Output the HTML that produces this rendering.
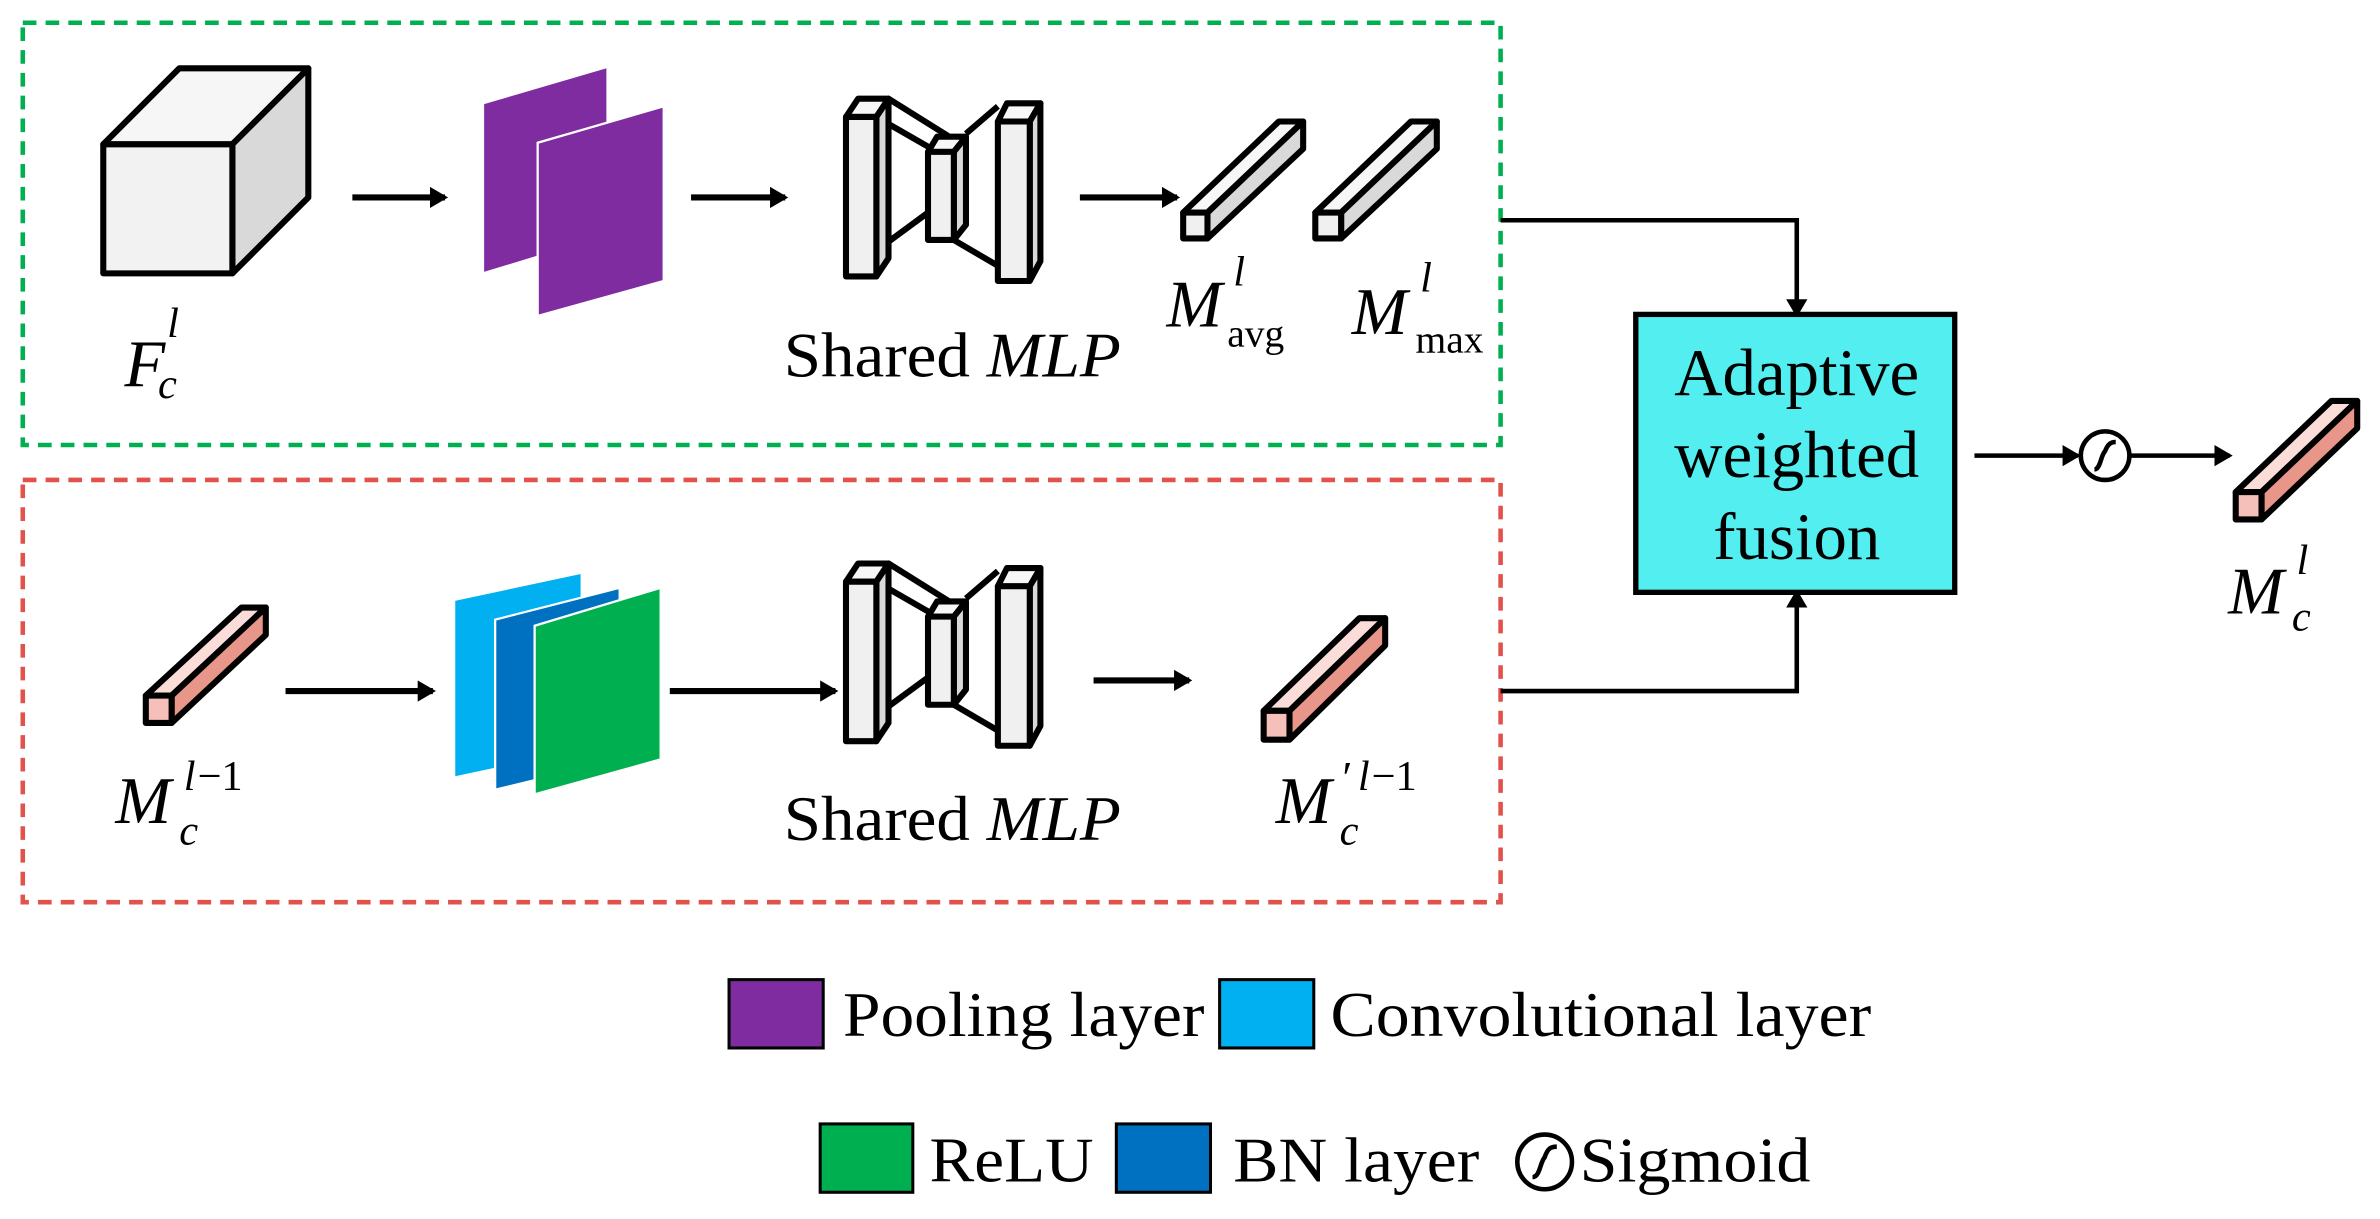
<!DOCTYPE html>
<html><head><meta charset="utf-8"><style>
html,body{margin:0;padding:0;background:#fff;}
svg{display:block;}
text{font-family:"Liberation Serif",serif;fill:#000;}
</style></head><body>
<svg width="2380" height="1219" viewBox="0 0 1567 802.6" preserveAspectRatio="none" xmlns="http://www.w3.org/2000/svg">
<defs>
<marker id="ah" markerWidth="12" markerHeight="14" refX="10" refY="7" orient="auto" markerUnits="userSpaceOnUse" viewBox="0 0 12 14"><path d="M0,0 L12,7 L0,14 Z" fill="#000"/></marker>
<g id="mlp" stroke="#000" stroke-width="4" stroke-linejoin="round">
  <line x1="577" y1="77" x2="617" y2="100"/><line x1="585" y1="65" x2="625" y2="90"/>
  <line x1="577" y1="165" x2="611" y2="140"/>
  <line x1="636" y1="88" x2="657" y2="70"/>
  <line x1="628" y1="158" x2="657" y2="175"/>
  <polygon points="557,77 565,65 585,65 577,77" fill="#f7f7f7"/>
  <polygon points="577,77 585,65 585,170 577,182" fill="#d9d9d9"/>
  <rect x="557" y="77" width="20" height="105" fill="#f0f0f0"/>
  <polygon points="611,100 617,90 636,90 628,100" fill="#f7f7f7"/>
  <polygon points="628,100 636,90 636,148 628,158" fill="#d9d9d9"/>
  <rect x="611" y="100" width="17" height="58" fill="#f0f0f0"/>
  <polygon points="657,80 663,68 685,68 678,80" fill="#f7f7f7"/>
  <polygon points="678,80 685,68 685,172 678,185" fill="#d9d9d9"/>
  <rect x="657" y="80" width="21" height="105" fill="#f0f0f0"/>
</g>
</defs>

<rect x="15" y="15" width="973" height="278" fill="none" stroke="#00b050" stroke-width="3" stroke-dasharray="9,6"/>
<rect x="15" y="316" width="973" height="278" fill="none" stroke="#e0524a" stroke-width="3" stroke-dasharray="9,6"/>

<g stroke="#000" stroke-width="4" stroke-linejoin="round">
<polygon points="68,95 118,45 203,45 153,95" fill="#f6f6f6"/>
<polygon points="153,95 203,45 203,130 153,180" fill="#d9d9d9"/>
<rect x="68" y="95" width="85" height="85" fill="#f2f2f2"/>
</g>
<text x="82" y="254" font-size="44" font-style="italic">F</text>
<text x="110" y="222" font-size="28" font-style="italic">l</text>
<text x="104" y="262" font-size="28" font-style="italic">c</text>

<g stroke="#000" stroke-width="4" fill="none">
<line x1="232" y1="130" x2="293" y2="130" marker-end="url(#ah)"/>
<line x1="455" y1="130" x2="517" y2="130" marker-end="url(#ah)"/>
<line x1="711" y1="130" x2="775" y2="130" marker-end="url(#ah)"/>
</g>

<polygon points="318,68 400,44 400,155 318,180" fill="#7f2ca0" stroke="#fff" stroke-width="1.5"/>
<polygon points="354,94 437,70 437,185 354,208" fill="#7f2ca0" stroke="#fff" stroke-width="1.5"/>

<use href="#mlp"/>
<text x="516" y="248" font-size="42" textLength="222" lengthAdjust="spacingAndGlyphs">Shared <tspan font-style="italic">MLP</tspan></text>

<g stroke="#000" stroke-width="4" stroke-linejoin="round">
<polygon points="779,140 842,80 858,80 795,140" fill="#f7f7f7"/>
<polygon points="795,140 858,80 858,98 795,157" fill="#d9d9d9"/>
<rect x="779" y="140" width="16" height="17" fill="#f0f0f0"/>
<polygon points="866,140 929,80 946,80 883,140" fill="#f7f7f7"/>
<polygon points="883,140 946,80 946,98 883,157" fill="#d9d9d9"/>
<rect x="866" y="140" width="17" height="17" fill="#f0f0f0"/>
</g>
<text x="768" y="215" font-size="44" font-style="italic">M</text>
<text x="812" y="188" font-size="28" font-style="italic">l</text>
<text x="808" y="228" font-size="26">avg</text>
<text x="890" y="220" font-size="44" font-style="italic">M</text>
<text x="935" y="192" font-size="28" font-style="italic">l</text>
<text x="932" y="232" font-size="26">max</text>

<g stroke="#000" stroke-width="3" fill="none">
<polyline points="988,145 1183,145 1183,207" marker-end="url(#ah)"/>
<polyline points="988,455 1183,455 1183,390" marker-end="url(#ah)"/>
</g>
<rect x="1077" y="207" width="210" height="183" fill="#52eef0" stroke="#000" stroke-width="3.5"/>
<text x="1183" y="260" font-size="44" text-anchor="middle">Adaptive</text>
<text x="1183" y="314" font-size="44" text-anchor="middle">weighted</text>
<text x="1183" y="368" font-size="44" text-anchor="middle">fusion</text>

<g stroke="#000" stroke-width="3" fill="none">
<line x1="1300" y1="300" x2="1368" y2="300" marker-end="url(#ah)"/>
<circle cx="1386" cy="300" r="16"/>
<path d="M1379,309 C1383,309 1383,300 1386,297 C1388,292 1390,291 1393,291"/>
<line x1="1402" y1="300" x2="1468" y2="300" marker-end="url(#ah)"/>
</g>
<g stroke="#000" stroke-width="4" stroke-linejoin="round">
<polygon points="1472,324 1535,264 1552,264 1489,324" fill="#fadcd8"/>
<polygon points="1489,324 1552,264 1552,282 1489,342" fill="#e8968a"/>
<rect x="1472" y="324" width="17" height="18" fill="#f4c0b9"/>
</g>
<text x="1467" y="404" font-size="44" font-style="italic">M</text>
<text x="1512" y="378" font-size="28" font-style="italic">l</text>
<text x="1509" y="415" font-size="28" font-style="italic">c</text>

<g stroke="#000" stroke-width="4" stroke-linejoin="round">
<polygon points="96,458 159,400 175,400 113,458" fill="#fadcd8"/>
<polygon points="113,458 175,400 175,418 113,476" fill="#e8968a"/>
<rect x="96" y="458" width="17" height="18" fill="#f4c0b9"/>
</g>
<text x="76" y="542" font-size="44" font-style="italic">M</text>
<text x="121" y="520" font-size="28" font-style="italic">l</text><text x="130" y="520" font-size="28">−1</text>
<text x="118" y="556" font-size="28" font-style="italic">c</text>

<g stroke="#000" stroke-width="4" fill="none">
<line x1="188" y1="455" x2="285" y2="455" marker-end="url(#ah)"/>
<line x1="441" y1="455" x2="550" y2="455" marker-end="url(#ah)"/>
<line x1="720" y1="448" x2="783" y2="448" marker-end="url(#ah)"/>
</g>
<polygon points="299,395 383,377 383,494 299,512" fill="#00b0f0" stroke="#fff" stroke-width="1.5"/>
<polygon points="326,408 408,387 408,500 326,520" fill="#0070c0" stroke="#fff" stroke-width="1.5"/>
<polygon points="352,412 435,387 435,500 352,523" fill="#00b050" stroke="#fff" stroke-width="1.5"/>

<use href="#mlp" transform="translate(0,306)"/>
<text x="516" y="553" font-size="42" textLength="222" lengthAdjust="spacingAndGlyphs">Shared <tspan font-style="italic">MLP</tspan></text>

<g stroke="#000" stroke-width="4" stroke-linejoin="round">
<polygon points="832,468 895,407 912,407 849,468" fill="#fadcd8"/>
<polygon points="849,468 912,407 912,425 849,487" fill="#e8968a"/>
<rect x="832" y="468" width="17" height="19" fill="#f4c0b9"/>
</g>
<text x="840" y="542" font-size="44" font-style="italic">M</text>
<text x="882" y="522" font-size="30" font-style="italic">′</text>
<text x="894" y="520" font-size="28" font-style="italic">l</text><text x="903" y="520" font-size="28">−1</text>
<text x="882" y="556" font-size="28" font-style="italic">c</text>

<rect x="480" y="645" width="62" height="45" fill="#7f2ca0" stroke="#000" stroke-width="2"/>
<text x="555" y="682" font-size="42" textLength="238" lengthAdjust="spacingAndGlyphs">Pooling layer</text>
<rect x="803" y="645" width="62" height="45" fill="#00b0f0" stroke="#000" stroke-width="2"/>
<text x="876" y="682" font-size="42" textLength="356" lengthAdjust="spacingAndGlyphs">Convolutional layer</text>
<rect x="540" y="740" width="61" height="45" fill="#00b050" stroke="#000" stroke-width="2"/>
<text x="612" y="778" font-size="42" textLength="108" lengthAdjust="spacingAndGlyphs">ReLU</text>
<rect x="735" y="740" width="62" height="45" fill="#0070c0" stroke="#000" stroke-width="2"/>
<text x="812" y="778" font-size="42" textLength="162" lengthAdjust="spacingAndGlyphs">BN layer</text>
<g stroke="#000" stroke-width="3" fill="none">
<circle cx="1017" cy="765" r="18"/>
<path d="M1009,775 C1014,775 1014,765 1017,762 C1019,756 1021,755 1025,755"/>
</g>
<text x="1040" y="778" font-size="42" textLength="152" lengthAdjust="spacingAndGlyphs">Sigmoid</text>
</svg>
</body></html>
